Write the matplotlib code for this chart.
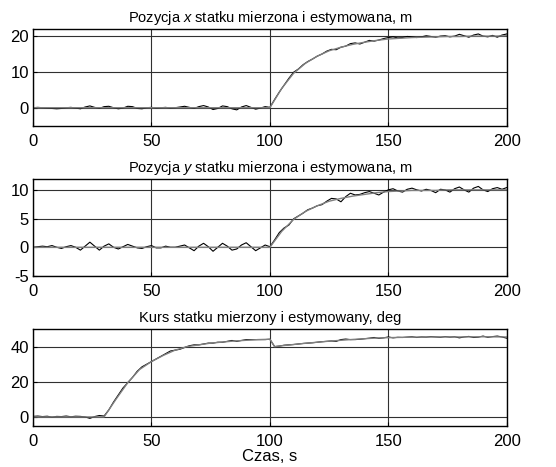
import matplotlib
matplotlib.use("Agg")
import matplotlib.pyplot as plt

plt.rcParams['font.family'] = ['Liberation Sans', 'DejaVu Sans']
plt.rcParams['mathtext.fontset'] = 'custom'
plt.rcParams['mathtext.rm'] = 'Liberation Sans'
plt.rcParams['mathtext.it'] = 'Liberation Sans:italic'
plt.rcParams['axes.unicode_minus'] = False

# time grid of the measured signals (s)
t_meas = list(range(0, 201, 2))
# time grid of the estimated signals (s)
t_est = list(range(0, 201, 5))

# position x, m
x_meas = [0.0, 0.1, 0.0, -0.1, -0.2, -0.3, -0.2, 0.0, 0.1, -0.1,
          -0.3, 0.2, 0.5, 0.1, -0.2, 0.3, 0.4, 0.0, -0.3, -0.1,
          0.4, 0.3, -0.2, -0.3, 0.0, 0.1, -0.1, 0.0, 0.1, -0.1,
          0.0, 0.2, 0.4, 0.1, -0.2, 0.3, 0.6, 0.2, -0.5, -0.2,
          0.5, 0.3, -0.3, -0.6, 0.2, 0.6, 0.1, -0.4, -0.1, 0.3,
          0.1, 2.3, 4.4, 6.3, 8.2, 9.9, 10.8, 12.0, 12.9, 13.6,
          14.4, 15.0, 15.8, 16.3, 16.2, 16.9, 17.2, 17.9, 18.1, 17.8,
          18.3, 18.8, 18.6, 18.9, 19.3, 19.6, 19.8, 19.5, 19.6, 19.9,
          19.8, 19.6, 19.8, 20.1, 19.9, 19.7, 20.0, 20.1, 19.8, 20.0,
          20.5, 20.1, 19.7, 20.3, 20.6, 20.0, 19.8, 20.2, 19.7, 20.3,
          20.6]
x_est = [0.0, 0.0, 0.0, 0.0, 0.0, 0.0, 0.0, 0.0, 0.0, 0.0,
         0.0, 0.0, 0.0, 0.0, 0.0, 0.0, 0.0, 0.0, 0.0, 0.0,
         0.0, 5.4, 9.6, 12.4, 14.4, 15.9, 16.9, 17.7, 18.3, 18.8,
         19.2, 19.4, 19.6, 19.7, 19.8, 19.9, 19.9, 20.0, 20.0, 20.0,
         20.1]

# position y, m
y_meas = [0.0, 0.1, 0.2, 0.1, 0.3, 0.0, -0.2, 0.1, 0.3, 0.0,
          -0.5, 0.2, 0.9, 0.2, -0.5, 0.2, 0.6, 0.0, -0.3, 0.1,
          0.5, 0.2, -0.1, -0.2, 0.1, 0.3, -0.1, -0.1, 0.2, 0.0,
          0.0, 0.2, 0.4, -0.1, -0.6, 0.2, 0.7, 0.1, -0.7, 0.0,
          0.7, 0.2, -0.5, -0.3, 0.4, 0.8, 0.1, -0.6, -0.1, 0.4,
          0.1, 1.3, 2.6, 3.4, 3.9, 5.0, 5.5, 6.0, 6.6, 6.9,
          7.3, 7.5, 8.1, 8.6, 8.5, 8.0, 8.9, 9.5, 9.2, 9.3,
          9.6, 9.8, 9.5, 9.2, 9.7, 10.1, 10.3, 9.9, 9.7, 10.2,
          10.4, 10.1, 9.9, 10.2, 10.0, 9.6, 10.2, 10.1, 9.7, 10.3,
          10.6, 10.1, 9.7, 10.4, 10.7, 10.1, 9.8, 10.3, 10.5, 10.2,
          10.5]
y_est = [0.0, 0.0, 0.0, 0.0, 0.0, 0.0, 0.0, 0.0, 0.0, 0.0,
         0.0, 0.0, 0.0, 0.0, 0.0, 0.0, 0.0, 0.0, 0.0, 0.0,
         0.0, 2.8, 4.9, 6.3, 7.3, 8.1, 8.6, 9.0, 9.3, 9.6,
         9.8, 9.9, 10.0, 10.0, 10.0, 10.1, 10.1, 10.1, 10.1, 10.1,
         10.1]

# heading, deg
k_meas = [0.3, 0.5, 0.2, 0.4, -0.1, 0.3, 0.2, 0.5, 0.1, 0.4,
          0.3, 0.0, -0.8, 0.2, 0.8, 0.5, 4.0, 8.5, 12.5, 16.5,
          19.5, 22.5, 26.0, 28.5, 30.0, 31.5, 33.0, 34.5, 36.0, 37.5,
          38.0, 38.5, 39.5, 40.5, 41.0, 41.0, 41.5, 42.0, 42.0, 42.5,
          42.5, 43.0, 43.5, 43.0, 43.5, 44.0, 44.0, 44.0, 44.0, 44.0,
          44.2, 40.0, 40.3, 40.8, 41.0, 41.2, 41.5, 41.8, 42.0, 42.2,
          42.5, 42.8, 43.0, 43.2, 43.0, 44.0, 44.3, 44.0, 44.0, 44.2,
          44.5, 44.8, 45.2, 44.7, 45.0, 45.5, 45.0, 45.3, 45.2, 45.4,
          45.6, 45.2, 45.5, 45.4, 45.7, 45.5, 45.3, 45.7, 45.4, 45.6,
          45.0, 45.5, 45.8, 45.2, 45.4, 46.0, 45.3, 45.7, 46.0, 45.5,
          44.8]
t_k_est = [0, 5, 10, 15, 20, 25, 30, 35, 40, 45, 50, 55, 60, 65, 70,
           75, 80, 85, 90, 95, 100, 102, 105, 110, 115, 120, 125, 130,
           135, 140, 145, 150, 160, 170, 180, 190, 200]
k_est = [0.0, 0.0, 0.0, 0.0, 0.0, 0.0, 0.0, 10.0, 19.5, 27.0, 31.5,
         35.0, 38.0, 40.0, 41.0, 42.0, 42.6, 43.2, 43.6, 44.0, 44.2,
         40.0, 40.5, 41.2, 41.9, 42.5, 43.1, 43.6, 44.1, 44.5, 44.9,
         45.1, 45.4, 45.5, 45.5, 45.6, 45.5]

titles = ['Pozycja $x$ statku mierzona i estymowana, m',
          'Pozycja $y$ statku mierzona i estymowana, m',
          'Kurs statku mierzony i estymowany, deg']
ylims = [(-5, 22), (-5, 12), (-5, 50)]
yticks = [[0, 10, 20], [-5, 0, 5, 10], [0, 20, 40]]
xticks = [0, 50, 100, 150, 200]

fig = plt.figure(figsize=(5.56, 4.67), dpi=100)
boxes = [[0.0594, 0.731, 0.852, 0.207],
         [0.0594, 0.4096, 0.852, 0.207],
         [0.0594, 0.0884, 0.852, 0.207]]
series = [(t_meas, x_meas, t_est, x_est),
          (t_meas, y_meas, t_est, y_est),
          (t_meas, k_meas, t_k_est, k_est)]

for i in range(3):
    ax = fig.add_axes(boxes[i])
    tm, vm, te, ve = series[i]
    ax.plot(tm, vm, color='black', lw=0.8)
    ax.plot(te, ve, color='#808080', lw=1.0)
    ax.set_xlim(0, 200)
    ax.set_ylim(*ylims[i])
    ax.set_xticks(xticks)
    ax.set_yticks(yticks[i])
    ax.grid(True, color='#303030', lw=0.8, ls='-')
    ax.tick_params(direction='in', length=3, labelsize=12, color='black')
    ax.tick_params(axis='x', pad=6)
    ax.tick_params(axis='y', pad=3)
    for s in ax.spines.values():
        s.set_linewidth(1.0)
    ax.set_title(titles[i], fontsize=10.5, pad=5)

ax.set_xlabel('Czas, s', fontsize=12, labelpad=0)

fig.savefig('out.png', dpi=100)
